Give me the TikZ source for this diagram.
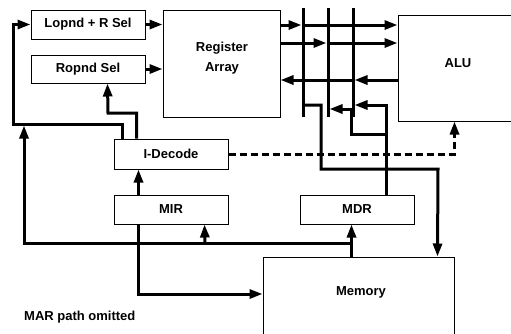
\documentclass[tikz,border=0pt]{standalone}
\usepackage{fontspec}
\setmainfont{Liberation Sans}
\usetikzlibrary{arrows.meta}
\begin{document}
\begin{tikzpicture}[x=1pt,y=-1pt,
 box/.style={draw,line width=1pt,minimum width=114pt,inner sep=0pt,font=\bfseries\fontsize{13}{15}\selectfont},
 lbl/.style={font=\bfseries\fontsize{13}{20}\selectfont,align=center,inner sep=0pt},
 bus/.style={line width=3pt},
 wire/.style={line width=3pt,-{Triangle[length=13pt,width=9pt]}},
 dashwire/.style={wire,dash pattern=on 7pt off 4pt}
]
\clip (0,0) rectangle (511,333);
% boxes
\node[box,minimum height=29pt] (lop) at (88,24.5) {Lopnd + R Sel};
\node[box,minimum height=28pt] (rop) at (88,69) {Ropnd Sel};
\node[box,minimum width=117pt,minimum height=107pt] (reg) at (221.5,63.5) {};
\node[lbl] (regt) at (222,58) {Register\\Array};
\node[box,minimum width=130pt,minimum height=106pt] (alu) at (463,68) {};
\node[lbl] (alut) at (458,63) {ALU};
\node[box,minimum height=30pt] (idec) at (171,154) {I-Decode};
\node[box,minimum height=29pt] (mir) at (171,209.5) {MIR};
\node[box,minimum height=29pt] (mdr) at (357,209.5) {MDR};
\node[box,minimum width=191pt,minimum height=120pt] (mem) at (358.5,317) {};
\node[lbl] (memt) at (361,292) {Memory};
\node[lbl,anchor=west] (mar) at (24,317) {MAR path omitted};
% helper coordinates
\coordinate (b1t) at (303,8);  \coordinate (b1b) at (303,117);
\coordinate (b2t) at (328,8);  \coordinate (b2b) at (328,117);
\coordinate (b3t) at (353,8);  \coordinate (b3b) at (353,117);
\coordinate (h1) at (0,25);
\coordinate (h2) at (0,43);
\coordinate (h3) at (0,80);
\coordinate (y105) at (0,105);
\coordinate (y109) at (0,109);
\coordinate (y294) at (0,294);
\coordinate (tap1) at (352,243);
\coordinate (tap2) at (387,134);
\coordinate (tap3) at (205,243);
% buses
\draw[bus] (b1t) -- (b1b);
\draw[bus] (b2t) -- (b2b);
\draw[bus] (b3t) -- (b3b);
% register <-> ALU
\draw[wire,shorten >=1.5pt] (reg.east |- h1) -- (b1t |- h1);
\draw[wire] (b1t |- h1) -- (alu.west |- h1);
\draw[wire,shorten >=1.5pt] (reg.east |- h2) -- (b2t |- h2);
\draw[wire] (b2t |- h2) -- (alu.west |- h2);
\draw[wire,shorten >=1.5pt] (alu.west |- h3) -- (b3t |- h3);
\draw[wire] (b3t |- h3) -- (reg.east |- h3);
% selectors
\draw[wire] (lop.east) -- (reg.west |- lop.east);
\draw[wire] (rop.east) -- (reg.west |- rop.east);
\draw[wire] ([xshift=9pt]idec.north west) |- (13,124) |- (lop.west);
\draw[wire] ([xshift=23pt]idec.north west) |- (108,113) -- ([xshift=77pt]rop.south west);
\draw[wire] ([xshift=25pt]mir.north west) -- ([xshift=25pt]idec.south west);
% memory paths
\draw[wire] ([xshift=25pt]mir.south west) |- (mem.west |- y294);
\draw[wire] ([xshift=89pt]mem.north west) -- ([xshift=52pt]mdr.south west);
\draw[wire] (tap1) -| (24,125.5);
\draw[wire] (tap3) -- ([xshift=91pt]mir.south west);
\draw[wire] (b1t |- y105) -- (321,105) |- (438,169) -- ([xshift=175pt]mem.north west);
\draw[wire,shorten >=1.5pt] ([xshift=87pt]mdr.north west) |- (b3t |- y105);
\draw[wire,shorten >=1.5pt] (tap2) -- (351,134) -- (351,109) -- (b2t |- y109);
% control
\draw[dashwire] (idec.east) -| ([xshift=57pt]alu.south west);
\end{tikzpicture}
\end{document}
